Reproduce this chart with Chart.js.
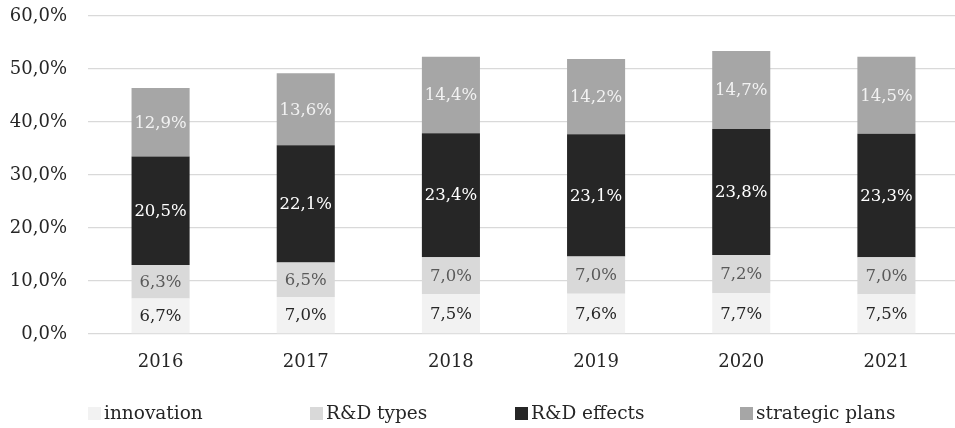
<!DOCTYPE html>
<html lang="en">
<head>
  <meta charset="UTF-8" />
  <title>R&amp;D stacked shares 2016-2021</title>
  <script src="https://cdn.jsdelivr.net/npm/chart.js"></script>
  <style>
    body {
      margin: 0;
      background: #ffffff;
      font-family: "DejaVu Serif", serif;
      overflow: hidden;
    }
    #wrap {
      position: relative;
      width: 955px;
      height: 428px;
      overflow: hidden;
    }
    #legend {
      position: absolute;
      top: 402px;
      left: 0;
      width: 955px;
      height: 22px;
      font-size: 18.5px;
      color: #262626;
    }
    .item {
      position: absolute;
      top: 0;
      white-space: nowrap;
      line-height: 22px;
    }
    .box {
      display: inline-block;
      width: 13px;
      height: 13px;
      margin-right: 3px;
      vertical-align: -1px;
    }
  </style>
</head>
<body>
  <div id="wrap">
    <!-- a little wider than the page so the plot runs past the right edge, as in the original -->
    <canvas id="chart" width="959" height="428"></canvas>
    <div id="legend"></div>
  </div>

  <script>
    const years = ['2016', '2017', '2018', '2019', '2020', '2021'];
    const innovation = [6.7, 7.0, 7.5, 7.6, 7.7, 7.5];
    const rdTypes = [6.3, 6.5, 7.0, 7.0, 7.2, 7.0];
    const rdEffects = [20.5, 22.1, 23.4, 23.1, 23.8, 23.3];
    const strategicPlans = [12.9, 13.6, 14.4, 14.2, 14.7, 14.5];
    const yTicks = [0, 10, 20, 30, 40, 50, 60];

    const series = [
      { label: 'innovation', data: innovation, color: '#f2f2f2', text: '#262626' },
      { label: 'R&D types', data: rdTypes, color: '#d9d9d9', text: '#595959' },
      { label: 'R&D effects', data: rdEffects, color: '#262626', text: '#ffffff' },
      { label: 'strategic plans', data: strategicPlans, color: '#a6a6a6', text: '#f2f2f2' }
    ];

    const fmt = v => v.toFixed(1).replace('.', ',') + '%';

    // value labels in the middle of each segment
    const segmentLabels = {
      id: 'segmentLabels',
      afterDatasetsDraw(chart) {
        const ctx = chart.ctx;
        ctx.save();
        ctx.font = '16.5px "DejaVu Serif"';
        ctx.textAlign = 'center';
        ctx.textBaseline = 'middle';
        chart.data.datasets.forEach((ds, i) => {
          const meta = chart.getDatasetMeta(i);
          ctx.fillStyle = series[i].text;
          meta.data.forEach((bar, j) => {
            const p = bar.getProps(['x', 'y', 'base'], true);
            ctx.fillText(fmt(ds.data[j]), p.x, (p.y + p.base) / 2 + 1);
          });
        });
        ctx.restore();
      }
    };

    const ctx = document.getElementById('chart').getContext('2d');
    new Chart(ctx, {
      type: 'bar',
      data: {
        labels: years,
        datasets: series.map(s => ({
          label: s.label,
          data: s.data,
          backgroundColor: s.color,
          borderWidth: 0,
          barPercentage: 0.4,
          categoryPercentage: 1.0
        }))
      },
      options: {
        responsive: false,
        animation: false,
        layout: { padding: { top: 16, right: 0, bottom: 0, left: 0 } },
        scales: {
          x: {
            stacked: true,
            grid: { display: false, drawTicks: false },
            border: { display: false },
            ticks: {
              color: '#262626',
              font: { family: 'DejaVu Serif', size: 18 },
              padding: 18
            },
            afterFit(scale) {
              scale.height = 94;
              scale.paddingLeft = 0;
              scale.paddingRight = 0;
            }
          },
          y: {
            stacked: true,
            min: 0,
            max: 60,
            afterBuildTicks(scale) { scale.ticks = yTicks.map(v => ({ value: v })); },
            grid: { color: '#d9d9d9', lineWidth: 1.3, drawTicks: false },
            border: { display: false },
            ticks: {
              color: '#262626',
              font: { family: 'DejaVu Serif', size: 18 },
              padding: 21,
              callback: v => v.toFixed(1).replace('.', ',') + '%'
            },
            afterFit(scale) {
              scale.width = 88;
              scale.paddingTop = 0;
              scale.paddingBottom = 0;
            }
          }
        },
        plugins: {
          legend: { display: false },
          tooltip: { enabled: false }
        }
      },
      plugins: [segmentLabels]
    });

    // legend laid out in columns like the original
    const legendLeft = [88, 310, 515, 740];
    const legend = document.getElementById('legend');
    series.forEach((s, i) => {
      const item = document.createElement('div');
      item.className = 'item';
      item.style.left = legendLeft[i] + 'px';
      const box = document.createElement('span');
      box.className = 'box';
      box.style.background = s.color;
      item.appendChild(box);
      item.appendChild(document.createTextNode(s.label));
      legend.appendChild(item);
    });
  </script>
</body>
</html>
